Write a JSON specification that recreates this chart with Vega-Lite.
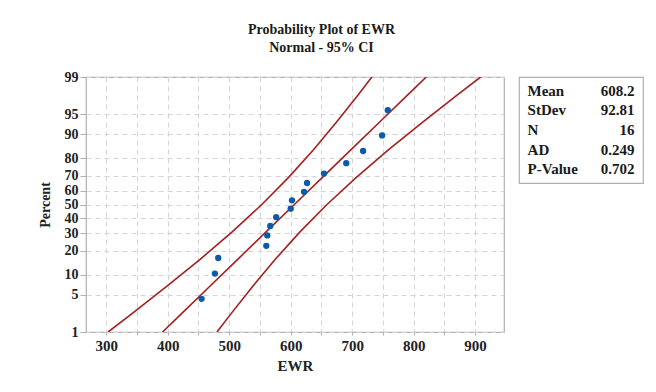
{
  "$schema": "https://vega.github.io/schema/vega-lite/v6.json",
  "background": "white",
  "padding": {"left": 37, "top": 23, "right": 5, "bottom": 5},
  "title": {
    "text": "Probability Plot of EWR",
    "subtitle": "Normal - 95% CI",
    "font": "Liberation Serif",
    "fontSize": 14,
    "fontWeight": "bold",
    "color": "#1a1a1a",
    "subtitleFont": "Liberation Serif",
    "subtitleFontSize": 14,
    "subtitleFontWeight": "bold",
    "subtitleColor": "#1a1a1a",
    "subtitlePadding": 4,
    "anchor": "middle",
    "dx": -19,
    "offset": 14
  },
  "config": {
    "font": "Liberation Serif",
    "view": {"stroke": "#b0b0b0", "strokeWidth": 1.2}
  },
  "datasets": {
    "pts": [
      {"ewr": 455.0, "z": -1.7204},
      {"ewr": 476.7, "z": -1.261},
      {"ewr": 482.1, "z": -0.9756},
      {"ewr": 560.3, "z": -0.7534},
      {"ewr": 561.9, "z": -0.5634},
      {"ewr": 566.8, "z": -0.3919},
      {"ewr": 576.4, "z": -0.2313},
      {"ewr": 600.0, "z": -0.0765},
      {"ewr": 602.1, "z": 0.0765},
      {"ewr": 621.7, "z": 0.2313},
      {"ewr": 626.6, "z": 0.3919},
      {"ewr": 654.2, "z": 0.5634},
      {"ewr": 690.4, "z": 0.7534},
      {"ewr": 717.8, "z": 0.9756},
      {"ewr": 748.7, "z": 1.261},
      {"ewr": 758.0, "z": 1.7204}
    ],
    "ci": [
      {"z": -2.3263, "lower": 303.0, "fit": 391.5, "upper": 480.0},
      {"z": -2.0, "lower": 340.8, "fit": 421.6, "upper": 502.4},
      {"z": -1.5, "lower": 397.7, "fit": 467.7, "upper": 537.7},
      {"z": -1.0, "lower": 452.7, "fit": 513.8, "upper": 574.9},
      {"z": -0.5, "lower": 504.8, "fit": 559.9, "upper": 615.1},
      {"z": 0.0, "lower": 553.0, "fit": 606.0, "upper": 659.0},
      {"z": 0.5, "lower": 597.0, "fit": 652.1, "upper": 707.3},
      {"z": 1.0, "lower": 637.1, "fit": 698.2, "upper": 759.3},
      {"z": 1.5, "lower": 674.3, "fit": 744.3, "upper": 814.3},
      {"z": 2.0, "lower": 709.6, "fit": 790.4, "upper": 871.2},
      {"z": 2.3263, "lower": 732.0, "fit": 820.5, "upper": 909.0}
    ],
    "stats": [
      {"row": 1, "stat": "Mean", "value": "608.2"},
      {"row": 2, "stat": "StDev", "value": "92.81"},
      {"row": 3, "stat": "N", "value": "16"},
      {"row": 4, "stat": "AD", "value": "0.249"},
      {"row": 5, "stat": "P-Value", "value": "0.702"}
    ]
  },
  "hconcat": [
    {
      "width": 418,
      "height": 255,
      "layer": [
        {
          "data": {"name": "ci"},
          "mark": {"type": "line", "color": "#a41f1f", "strokeWidth": 1.6, "clip": true},
          "encoding": {
            "x": {
              "field": "lower", "type": "quantitative", "title": "EWR",
              "scale": {"domain": [267, 947], "nice": false, "zero": false},
              "axis": {
                "values": [300, 350, 400, 450, 500, 550, 600, 650, 700, 750, 800, 850, 900],
                "tickCount": 30,
                "labelExpr": "datum.value % 100 === 0 ? datum.label : ''",
                "labelOverlap": false,
                "grid": true, "gridDash": [5, 4], "gridColor": "#d4d4d4", "gridWidth": 1,
                "domain": false, "tickSize": 3, "tickColor": "#b0b0b0",
                "labelFont": "Liberation Serif", "labelFontSize": 15, "labelFontWeight": "bold", "labelColor": "#222222", "labelPadding": 3,
                "titleFont": "Liberation Serif", "titleFontSize": 15, "titleFontWeight": "bold", "titleColor": "#222222", "titlePadding": 5
              }
            },
            "y": {
              "field": "z", "type": "quantitative", "title": "Percent",
              "scale": {"domain": [-2.3263, 2.3263], "nice": false, "zero": false},
              "axis": {
                "values": [-2.3263, -1.6449, -1.2816, -0.8416, -0.5244, -0.2533, 0, 0.2533, 0.5244, 0.8416, 1.2816, 1.6449, 2.3263],
                "tickCount": 30,
                "labelExpr": "format(cumulativeNormal(datum.value) * 100, '.0f')",
                "labelOverlap": false,
                "grid": true, "gridDash": [5, 4], "gridColor": "#d4d4d4", "gridWidth": 1,
                "domain": false, "tickSize": 6, "tickColor": "#b0b0b0",
                "labelFont": "Liberation Serif", "labelFontSize": 14, "labelFontWeight": "bold", "labelColor": "#222222", "labelPadding": 2,
                "titleFont": "Liberation Serif", "titleFontSize": 14, "titleFontWeight": "bold", "titleColor": "#222222", "titlePadding": 12
              }
            },
            "order": {"field": "z", "type": "quantitative"}
          }
        },
        {
          "data": {"name": "ci"},
          "mark": {"type": "line", "color": "#a41f1f", "strokeWidth": 1.6, "clip": true},
          "encoding": {
            "x": {"field": "fit", "type": "quantitative", "title": "EWR"},
            "y": {"field": "z", "type": "quantitative", "title": "Percent"},
            "order": {"field": "z", "type": "quantitative"}
          }
        },
        {
          "data": {"name": "ci"},
          "mark": {"type": "line", "color": "#a41f1f", "strokeWidth": 1.6, "clip": true},
          "encoding": {
            "x": {"field": "upper", "type": "quantitative", "title": "EWR"},
            "y": {"field": "z", "type": "quantitative", "title": "Percent"},
            "order": {"field": "z", "type": "quantitative"}
          }
        },
        {
          "data": {"name": "pts"},
          "mark": {"type": "circle", "color": "#0d5aab", "opacity": 1, "size": 40},
          "encoding": {
            "x": {"field": "ewr", "type": "quantitative", "title": "EWR"},
            "y": {"field": "z", "type": "quantitative", "title": "Percent"}
          }
        }
      ]
    },
    {
      "width": 124,
      "height": 106,
      "data": {"name": "stats"},
      "layer": [
        {
          "mark": {"type": "text", "align": "left", "baseline": "middle", "font": "Liberation Serif", "fontSize": 15, "fontWeight": "bold", "color": "#1a1a1a"},
          "encoding": {
            "x": {"datum": "l", "type": "nominal", "scale": {"type": "point", "domain": ["l", "r"], "padding": 0.08}, "axis": null},
            "y": {"field": "row", "type": "ordinal", "scale": {"type": "point", "padding": 0.69}, "axis": null},
            "text": {"field": "stat"}
          }
        },
        {
          "mark": {"type": "text", "align": "right", "baseline": "middle", "font": "Liberation Serif", "fontSize": 15, "fontWeight": "bold", "color": "#1a1a1a"},
          "encoding": {
            "x": {"datum": "r", "type": "nominal", "axis": null},
            "y": {"field": "row", "type": "ordinal", "axis": null},
            "text": {"field": "value"}
          }
        }
      ]
    }
  ],
  "spacing": 13
}
